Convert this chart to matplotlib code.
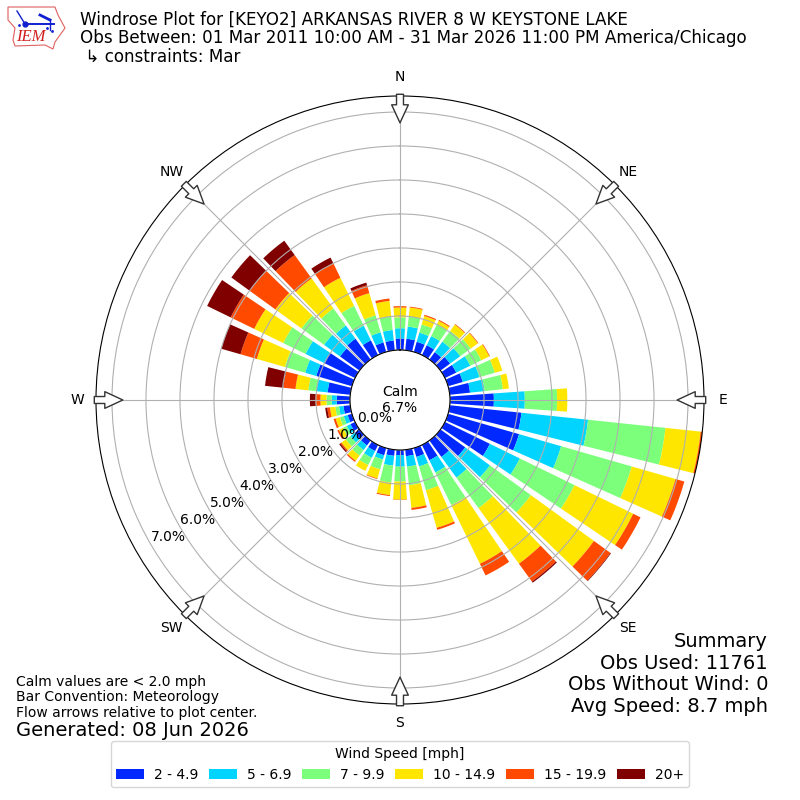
import numpy as np
import matplotlib
matplotlib.use("Agg")
import matplotlib.pyplot as plt
from matplotlib.patches import Polygon

# direction bins, degrees from north, 10 degree wide
directions = list(range(0, 360, 10))
speed_labels = ["2 - 4.9", "5 - 6.9", "7 - 9.9", "10 - 14.9", "15 - 19.9", "20+"]
speed_colors = ["#0028ff", "#00d4ff", "#7cff7a", "#ffe600", "#ff4a00", "#800000"]

# cumulative percent at the top of each speed class, per direction
upto_5 = [.34, .34, .31, .32, .27, .35, .37, .45, .60, 1.29, 2.12, 2.17, 1.47, .90, .60, .50, .27, .19,
          .15, .18, .22, .20, .18, .17, .15, .13, .20, .39, .67, 1.09, 1.02, .71, .76, .48, .29, .29]
upto_7 = [.64, .70, .59, .62, .65, .72, .83, .96, 1.03, 2.20, 4.09, 3.46, 2.45, 1.80, 1.35, .90, .56, .50,
          .49, .47, .35, .42, .35, .33, .27, .25, .33, .54, 1.00, 1.43, 1.62, 1.29, 1.24, .96, .60, .60]
upto_10 = [.96, 1.00, .84, 1.00, 1.04, 1.10, 1.19, 1.43, 1.57, 3.15, 6.38, 5.62, 4.24, 3.29, 2.46, 1.97, 1.29, 1.05,
           .93, .97, .65, .66, .55, .50, .40, .37, .44, .69, 1.24, 2.05, 2.35, 2.11, 1.86, 1.61, 1.12, 1.00]
upto_15 = [1.25, 1.265, 1.10, 1.12, 1.27, 1.36, 1.45, 1.66, 1.75, 3.45, 7.42, 6.96, 6.16, 5.58, 4.48, 3.89, 2.44, 1.72,
           1.46, 1.34, .93, .85, .74, .66, .53, .50, .60, .87, 1.62, 2.91, 3.30, 3.06, 2.95, 2.53, 1.80, 1.46]
upto_20 = [1.29, 1.29, 1.135, 1.15, 1.29, 1.38, 1.47, 1.66, 1.75, 3.45, 7.60, 7.23, 6.40, 6.18, 5.13, 4.27, 2.50, 1.78,
           1.47, 1.37, .95, .85, .78, .70, .58, .56, .68, 1.01, 1.98, 3.41, 4.07, 3.99, 3.80, 3.00, 2.04, 1.53]
upto_all = [1.29, 1.29, 1.135, 1.15, 1.29, 1.38, 1.47, 1.66, 1.75, 3.45, 7.60, 7.23, 6.40, 6.20, 5.17, 4.27, 2.50, 1.78,
            1.47, 1.37, .95, .85, .78, .74, .58, .56, .74, 1.18, 2.52, 4.00, 4.84, 4.66, 4.32, 3.19, 2.12, 1.53]

ring_values = [0, 1, 2, 3, 4, 5, 6, 7]
compass_angles = [0, 45, 90, 135, 180, 225, 270, 315]
compass_names = ["N", "NE", "E", "SE", "S", "SW", "W", "NW"]

fig = plt.figure(figsize=(8, 8), dpi=100)
ax = fig.add_axes([0.12, 0.12, 0.76, 0.76], projection="polar")
ax.set_theta_zero_location("N")
ax.set_theta_direction(-1)

theta = np.radians(directions)
width = np.radians(8)
tops = np.array([upto_5, upto_7, upto_10, upto_15, upto_20, upto_all])
bottom = np.zeros(len(directions))
handles = []
for top, color in zip(tops, speed_colors):
    handles.append(ax.bar(theta, top - bottom, width=width, bottom=bottom, color=color))
    bottom = top

rmax = 7.47
ax.set_rorigin(-50 / 34)
ax.set_rmin(0)
ax.set_rmax(rmax)
ax.set_rgrids(ring_values, [f"{v:.1f}%" for v in ring_values], angle=240)
ax.set_thetagrids(compass_angles, compass_names)
ax.tick_params(axis="x", pad=3)
ax.grid(True, color="#b0b0b0", lw=0.8)

# hollow flow arrows on the rim
for ang in compass_angles:
    ax.annotate("", xy=(np.radians(ang), 6.68), xytext=(np.radians(ang), rmax + 0.05),
                arrowprops=dict(arrowstyle="simple,head_length=1.3,head_width=1.2,tail_width=0.5",
                                fc="white", ec="#333333", lw=1, shrinkA=0, shrinkB=0),
                annotation_clip=False, zorder=5)

ax.text(0.5, 0.5, "Calm\n6.7%", transform=ax.transAxes, ha="center", va="center", fontsize=10)

fig.text(0.1, 0.9525, "Windrose Plot for [KEYO2] ARKANSAS RIVER 8 W KEYSTONE LAKE\n"
         "Obs Between: 01 Mar 2011 10:00 AM - 31 Mar 2026 11:00 PM America/Chicago\n"
         " \u21b3 constraints: Mar", fontsize=12.05, va="center", linespacing=1.05)
fig.text(0.02, 0.1, "Calm values are < 2.0 mph\nBar Convention: Meteorology\nFlow arrows relative to plot center.",
         fontsize=10, va="bottom", linespacing=1.15)
fig.text(0.02, 0.087, "Generated: 08 Jun 2026", fontsize=14, va="center")
fig.text(0.96, 0.105, "Summary\nObs Used: 11761\nObs Without Wind: 0\nAvg Speed: 8.7 mph",
         fontsize=14, ha="right", va="bottom", linespacing=1.17)

fig.legend([h[0] for h in handles], speed_labels, ncol=6, title="Wind Speed [mph]", fontsize=10,
           columnspacing=0.8, handletextpad=0.7, loc="lower center", bbox_to_anchor=(0.5, 0.007))

# logo drawn in pixel coordinates
logo = fig.add_axes([0, 0, 1, 1], facecolor="none")
logo.set_xlim(0, 800)
logo.set_ylim(800, 0)
logo.axis("off")
logo.add_patch(Polygon([(8, 7), (55, 7), (58, 15), (65, 28), (55, 42), (53, 49), (45, 45), (15, 46),
                        (13, 40), (15, 28), (8, 20)], fc="white", ec="#e06060", lw=0.8))
logo.plot([25, 54], [24, 24], color="#1020d0", lw=1.4)
logo.plot([17, 25], [11, 24], color="#1020d0", lw=1)
logo.plot([40, 50], [15, 20], color="#1020d0", lw=2)
logo.plot([50, 50], [19, 30], color="#1020d0", lw=1)
logo.plot([25], [24], "o", color="#1020d0", ms=3.5)
logo.plot([19, 47, 52], [25, 28, 31], ".", color="#1020d0", ms=2)
logo.text(16, 45, "IEM", family="Liberation Serif", style="italic", color="#d02020", fontsize=12, va="bottom")

fig.savefig("out.png", dpi=100)
